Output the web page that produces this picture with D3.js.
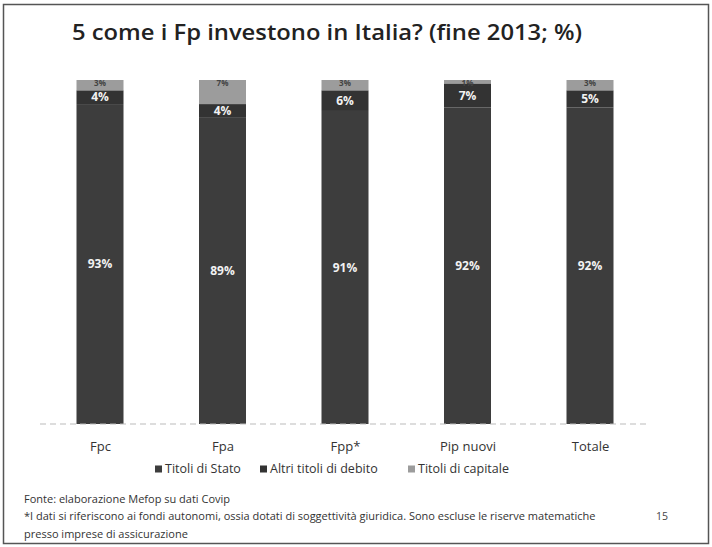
<!DOCTYPE html>
<html>
<head>
<meta charset="utf-8">
<style>
  body { margin: 0; background: #fff; }
  svg { font-family: "Open Sans", "Noto Sans", sans-serif; }
</style>
</head>
<body>
<div id="container"></div>
<script src="https://cdn.jsdelivr.net/npm/d3@7"></script>
<script>
// Data
let categories = ["Fpc", "Fpa", "Fpp*", "Pip nuovi", "Totale"];
let seriesNames = ["Titoli di Stato", "Altri titoli di debito", "Titoli di capitale"];
let titoliStato = [93, 89, 91, 92, 92];
let altriTitoli = [4, 4, 6, 7, 5];
let titoliCapitale = [3, 7, 3, 1, 3];
let colors = ["#3d3d3d", "#333333", "#9c9c9c"];

let width = 712, height = 547;

let svg = d3.select("#container")
  .append("svg")
  .attr("width", width)
  .attr("height", height);

// frame of the scanned slide
svg.append("rect")
  .attr("x", 3.5).attr("y", 4.5)
  .attr("width", 705).attr("height", 539)
  .attr("fill", "none")
  .attr("stroke", "#555")
  .attr("stroke-width", 1.5);

// title
svg.append("text")
  .attr("x", 72).attr("y", 40)
  .attr("font-size", 22)
  .attr("font-weight", 600)
  .attr("fill", "#222")
  .attr("textLength", 510)
  .attr("lengthAdjust", "spacingAndGlyphs")
  .text("5 come i Fp investono in Italia? (fine 2013; %)");

// scales
let x = d3.scalePoint().domain(categories).range([100, 590]);
let y = d3.scaleLinear().domain([0, 100]).range([424, 80]);
let barWidth = 47;

let rows = categories.map((c, i) => ({
  cat: c,
  "Titoli di Stato": titoliStato[i],
  "Altri titoli di debito": altriTitoli[i],
  "Titoli di capitale": titoliCapitale[i]
}));
let stacked = d3.stack().keys(seriesNames)(rows);

let layers = svg.selectAll("g.layer")
  .data(stacked)
  .enter()
  .append("g")
  .attr("class", "layer")
  .attr("fill", (d, i) => colors[i]);

layers.selectAll("rect")
  .data((d) => d)
  .enter()
  .append("rect")
  .attr("x", (d) => x(d.data.cat) - barWidth / 2)
  .attr("y", (d) => y(d[1]))
  .attr("width", barWidth)
  .attr("height", (d) => y(d[0]) - y(d[1]));

// value labels
stacked.forEach((layer, li) => {
  svg.selectAll("text.v" + li)
    .data(layer)
    .enter()
    .append("text")
    .attr("class", "v" + li)
    .attr("x", (d) => x(d.data.cat))
    .attr("y", (d) => li === 2 ? y(d[1]) + 3 : (y(d[0]) + y(d[1])) / 2)
    .attr("dy", "0.35em")
    .attr("text-anchor", "middle")
    .attr("font-size", li === 2 ? 8 : 12)
    .attr("font-weight", "bold")
    .attr("fill", li === 2 ? "#444" : "#f2f2f2")
    .text((d) => (d[1] - d[0]) + "%");
});

// axis
let axis = svg.append("g")
  .attr("transform", "translate(0,424)")
  .call(d3.axisBottom(x).tickSize(0).tickPadding(18));
axis.select(".domain")
  .attr("d", "M40,0H650")
  .attr("stroke", "#bbb")
  .attr("stroke-dasharray", "6,4");
axis.selectAll("text")
  .attr("font-size", 13)
  .attr("fill", "#333")
  .attr("font-family", "Open Sans, sans-serif");

// legend
let legendX = [155, 260, 408];
let legend = svg.selectAll("g.legend")
  .data(seriesNames)
  .enter()
  .append("g")
  .attr("class", "legend")
  .attr("transform", (d, i) => `translate(${legendX[i]},469)`);
legend.append("rect")
  .attr("x", 0).attr("y", -3.5)
  .attr("width", 7).attr("height", 7)
  .attr("fill", (d, i) => colors[i]);
legend.append("text")
  .attr("x", 10)
  .attr("dy", "0.35em")
  .attr("font-size", 12.5)
  .attr("fill", "#333")
  .text((d) => d);

// footnotes
let notes = [
  "Fonte: elaborazione Mefop su dati Covip",
  "*I dati si riferiscono ai fondi autonomi, ossia dotati di soggettività giuridica. Sono escluse le riserve matematiche",
  "presso imprese di assicurazione"
];
let noteY = [503, 520, 538];
svg.selectAll("text.note")
  .data(notes)
  .enter()
  .append("text")
  .attr("class", "note")
  .attr("x", 24)
  .attr("y", (d, i) => noteY[i])
  .attr("font-size", 11)
  .attr("fill", "#333")
  .text((d) => d);

svg.append("text")
  .attr("x", 656).attr("y", 520)
  .attr("font-size", 10.5)
  .attr("fill", "#444")
  .text("15");
</script>
</body>
</html>
